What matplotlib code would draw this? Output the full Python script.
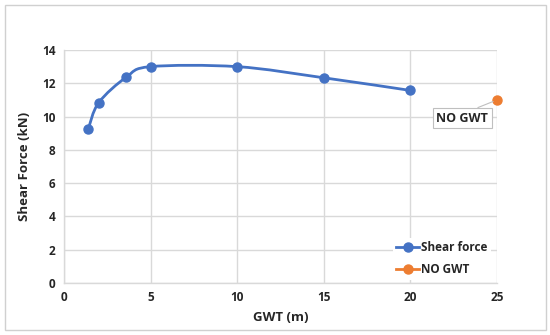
import matplotlib
matplotlib.use("Agg")
import matplotlib.pyplot as plt
from matplotlib.path import Path
from matplotlib.patches import PathPatch, Rectangle
import numpy as np

gwt = [1.4, 2.0, 3.6, 5.0, 10.0, 15.0, 20.0]
shear = [9.25, 10.83, 12.37, 13.0, 13.0, 12.33, 11.57]
nogwt_x = [25.0]
nogwt_y = [11.0]
xticks = [0, 5, 10, 15, 20, 25]
yticks = [0, 2, 4, 6, 8, 10, 12, 14]

blue = "#4472C4"
orange = "#ED7D31"
grid = "#D9D9D9"
txt = "#262626"

plt.rcParams['font.family'] = ['Open Sans', 'DejaVu Sans']

fig = plt.figure(figsize=(5.5, 3.35), dpi=100)
ax = fig.add_axes([64/550, 1-283/335, (497-64)/550, (283-50)/335])

fig.patches.append(Rectangle((5/550, 5/335), 541/550, 325/335, transform=fig.transFigure,
                             fill=False, edgecolor="#D0D0D0", linewidth=1.0))

# smoothed curve (Excel-like Catmull-Rom Bezier) built from data
xs = np.array(gwt); ys = np.array(shear)
n = len(xs)
verts = [(xs[0], ys[0])]
codes = [Path.MOVETO]
for i in range(n - 1):
    p0 = np.array([xs[max(i-1, 0)], ys[max(i-1, 0)]])
    p1 = np.array([xs[i], ys[i]])
    p2 = np.array([xs[i+1], ys[i+1]])
    p3 = np.array([xs[min(i+2, n-1)], ys[min(i+2, n-1)]])
    c1 = p1 + (p2 - p0) / 6.0
    c2 = p2 - (p3 - p1) / 6.0
    verts += [tuple(c1), tuple(c2), tuple(p2)]
    codes += [Path.CURVE4] * 3
ax.add_patch(PathPatch(Path(verts, codes), facecolor="none", edgecolor=blue, linewidth=2.0, zorder=3))

ms = 6.5
ax.plot(gwt, shear, linestyle="none", marker="o", markersize=ms, color=blue, zorder=4)
ax.plot(nogwt_x, nogwt_y, linestyle="none", marker="o", markersize=ms, color=orange, zorder=4, clip_on=False)

ax.plot([], [], color=blue, marker="o", markersize=ms, linewidth=2.0, label="Shear force")
ax.plot([], [], color=orange, marker="o", markersize=ms, linewidth=2.0, label="NO GWT")

ax.set_xlim(0, 25)
ax.set_ylim(0, 14)
ax.set_xticks(xticks)
ax.set_yticks(yticks)
ax.grid(True, color=grid, linewidth=1.0)
ax.set_axisbelow(True)
for s in ["top", "right"]:
    ax.spines[s].set_visible(False)
for s in ["left", "bottom"]:
    ax.spines[s].set_color(grid)
    ax.spines[s].set_linewidth(1.0)
ax.tick_params(length=0, labelsize=8.5, labelcolor=txt, pad=6)
for lab in ax.get_xticklabels() + ax.get_yticklabels():
    lab.set_fontweight("bold")

ax.set_xlabel("GWT (m)", fontsize=9.5, fontweight="bold", color=txt, labelpad=5)
ax.set_ylabel("Shear Force (kN)", fontsize=9.5, fontweight="bold", color=txt, labelpad=8)

leg = ax.legend(loc="lower right", bbox_to_anchor=(0.985, 0.015), frameon=True, fontsize=8.5,
                facecolor="white", edgecolor="none", framealpha=1.0, handlelength=1.9,
                labelspacing=0.75, borderaxespad=0.0, handletextpad=0.15, borderpad=0.3)
for t in leg.get_texts():
    t.set_fontweight("bold"); t.set_color(txt)

ax.annotate("NO GWT", xy=(nogwt_x[0], nogwt_y[0]), xytext=(23.0, 9.9),
            fontsize=9, fontweight="bold", color=txt, ha="center", va="center",
            bbox=dict(boxstyle="square,pad=0.3", facecolor="white", edgecolor="#BFBFBF", linewidth=0.8),
            arrowprops=dict(arrowstyle="-", color="#BFBFBF", linewidth=0.8, shrinkA=0, shrinkB=3,
                            relpos=(0.6, 1.0)),
            annotation_clip=False, zorder=5)

fig.savefig("out.png", dpi=100)
